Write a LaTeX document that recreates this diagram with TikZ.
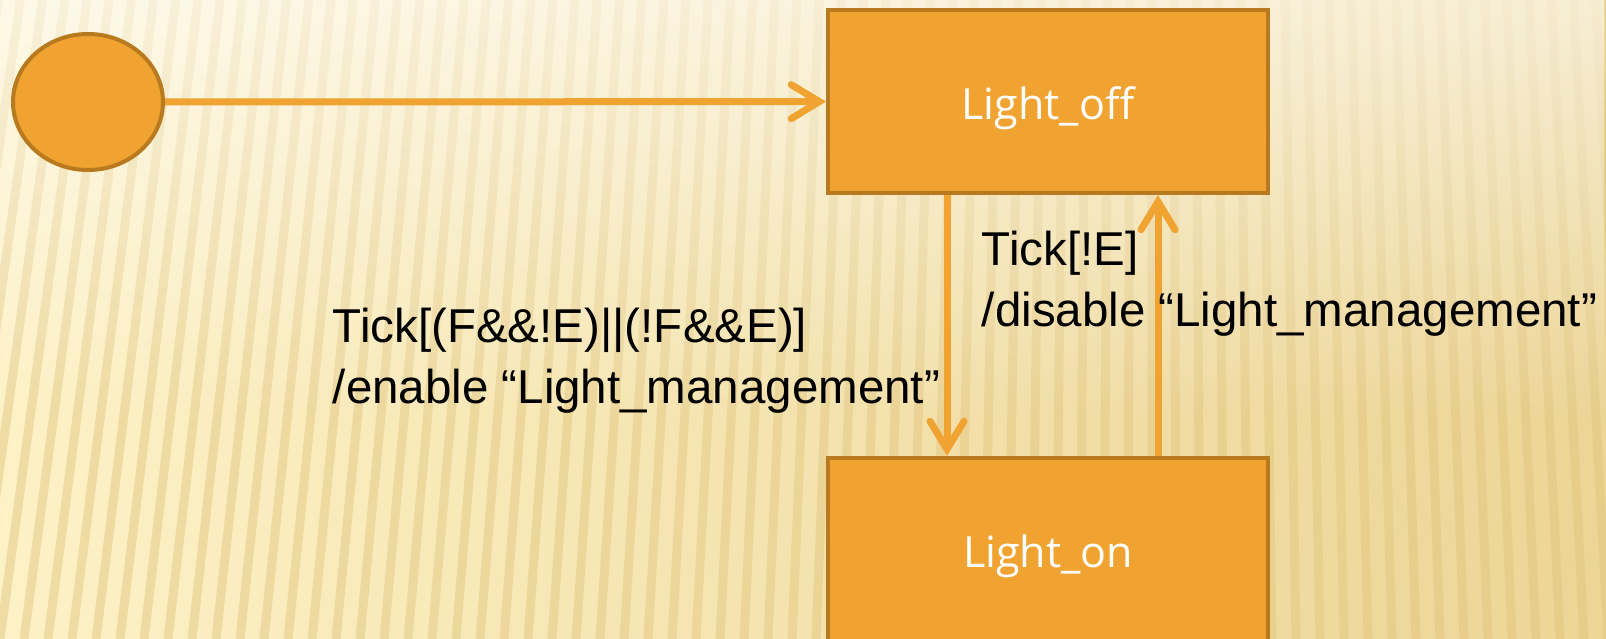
\documentclass[tikz,border=0pt]{standalone}
\usepackage{fontspec}
\newfontfamily\labelfont{Liberation Sans}
\newfontfamily\statefont{Open Sans}
\usetikzlibrary{arrows.meta,shapes.geometric,fadings}
\definecolor{stateorange}{HTML}{F0A330}
\definecolor{stateedge}{HTML}{B8791F}
\definecolor{paper}{HTML}{FDF1C6}
\definecolor{paperdark}{HTML}{ECD596}
\definecolor{stripe}{HTML}{E0C47C}

\begin{document}
\begin{tikzpicture}[x=1pt,y=-1pt,>={Straight Barb[length=28pt,width=34pt,line cap=round]}]
\tikzstyle{state}=[draw=stateedge, line width=4pt, fill=stateorange, minimum width=440pt, minimum height=183pt, text height=46pt, text depth=10pt, text=white, font=\statefont\fontsize{43}{50}\selectfont]
\tikzstyle{pseudostate}=[draw=stateedge, ellipse, line width=4pt, fill=stateorange, minimum width=150pt, minimum height=136pt]
\tikzstyle{trans}=[draw=stateorange, line width=7pt, ->]
\tikzstyle{guard}=[align=left, text=black, font=\labelfont\fontsize{47.5}{61}\selectfont]

% background
\clip (0,0) rectangle (1606,639);
\shade[left color=paper, right color=paperdark] (0,0) rectangle (1606,639);
\foreach \i in {-4,...,70} {
  \pgfmathsetmacro{\xb}{\i*24}
  \pgfmathsetmacro{\xt}{\xb+87*(1-\xb/1150)}
  \draw[stripe, line width=9pt, opacity=0.45] (\xb,639) -- (\xt,0);
}
\fill[white, opacity=0.6, path fading=south] (0,0) rectangle (1606,420);

\node[pseudostate] (init) at (88,102) {};
\node[state] (off) at (1048,101.5) {Light\_off};
\node[state] (on) at (1048,549.5) {Light\_on};

\draw[trans] (init) -- (off);
\draw[trans] ([xshift=-101pt]off.south) -- ([xshift=-101pt]on.north) node [guard, left, pos=0.635] {Tick[(F\&\&!E)||(!F\&\&E)]\\/enable “Light\_management”};
\draw[trans] ([xshift=110pt]on.north) -- ([xshift=110pt]off.south) node [guard, pos=0.66, anchor=west, xshift=-183pt] {Tick[!E]\\/disable “Light\_management”};
\end{tikzpicture}
\end{document}
